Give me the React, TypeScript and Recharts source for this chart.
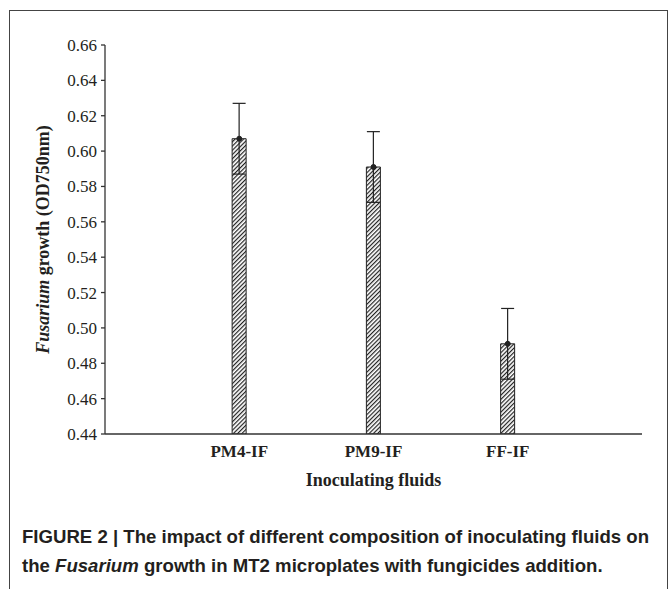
import React from 'react';
import { ComposedChart, Bar, Line, ErrorBar, XAxis, YAxis } from 'recharts';

const categories = ['PM4-IF', 'PM9-IF', 'FF-IF'];
const positions = [1, 2, 3];
const growth = [0.607, 0.591, 0.491];
const errors = [0.02, 0.02, 0.02];
const yTicks = [0.44, 0.46, 0.48, 0.5, 0.52, 0.54, 0.56, 0.58, 0.6, 0.62, 0.64, 0.66];

const data = positions.map((x, i) => ({
    x,
    name: categories[i],
    growth: growth[i],
    err: errors[i],
}));

const ink = '#231f20';
const serif = '"Liberation Serif", "Times New Roman", serif';

const YTitle = (props: any) => {
    const { viewBox } = props;
    const cx = 43;
    const cy = viewBox.y + viewBox.height / 2;
    return (
        <text x={cx} y={cy} transform={`rotate(-90 ${cx} ${cy})`} textAnchor="middle" dominantBaseline="central"
            fontFamily={serif} fontWeight="bold" fontSize={18} fill={ink}>
            <tspan fontStyle="italic">Fusarium</tspan> growth (OD750nm)
        </text>
    );
};

const XTitle = (props: any) => {
    const { viewBox } = props;
    return (
        <text x={viewBox.x + viewBox.width / 2} y={viewBox.y + 52} textAnchor="middle"
            fontFamily={serif} fontWeight="bold" fontSize={18} fill={ink}>
            Inoculating fluids
        </text>
    );
};

export default function App() {
    return (
        <div style={{ position: 'absolute', left: 0, top: 0, width: 670, height: 589, overflow: 'hidden', background: '#fff' }}>
            <div style={{ position: 'absolute', left: 9, top: 10, width: 657, height: 600, borderLeft: '1.5px solid #444', borderTop: '1.5px solid #444', borderRight: '1.5px solid #444' }} />
            <ComposedChart width={670} height={589} data={data} margin={{ top: 45, right: 28, bottom: 95, left: 0 }}
                style={{ position: 'absolute', left: 0, top: 0 }}>
                <defs>
                    <pattern id="hatch" width="3" height="3" patternUnits="userSpaceOnUse" patternTransform="rotate(45)">
                        <rect width="3" height="3" fill="#fff" />
                        <line x1="0.6" y1="0" x2="0.6" y2="3" stroke="#222" strokeWidth={1.2} />
                    </pattern>
                </defs>
                <XAxis xAxisId="bottom" dataKey="x" type="number" domain={[0, 4]} ticks={positions} height={60}
                    tickFormatter={(v: number) => categories[v - 1]} tickLine={false} tickSize={0} tickMargin={11}
                    stroke="#333" strokeWidth={1.3}
                    tick={{ fill: ink, fontFamily: serif, fontWeight: 'bold', fontSize: 17 }}
                    label={<XTitle />} />
                <XAxis xAxisId="top" orientation="top" dataKey="x" type="number" domain={[0, 4]} ticks={positions}
                    height={0} tick={false} tickSize={-4} stroke="#333" strokeWidth={1.3} />
                <YAxis yAxisId="left" type="number" domain={[0.44, 0.66]} ticks={yTicks} allowDataOverflow width={105}
                    tickFormatter={(v: number) => v.toFixed(2)} tickSize={4} tickMargin={4}
                    stroke="#333" strokeWidth={1.3}
                    tick={{ fill: ink, fontFamily: serif, fontSize: 17 }}
                    label={<YTitle />} />
                <YAxis yAxisId="right" orientation="right" type="number" domain={[0.44, 0.66]} ticks={yTicks}
                    allowDataOverflow width={0} tick={false} tickSize={-4} stroke="#333" strokeWidth={1.3} />
                <Bar xAxisId="bottom" yAxisId="left" dataKey="growth" barSize={14} fill="url(#hatch)" stroke="#222"
                    strokeWidth={1} isAnimationActive={false}>
                    <ErrorBar dataKey="err" width={6.5} stroke="#222" strokeWidth={1.2} direction="y" />
                </Bar>
                <Line xAxisId="bottom" yAxisId="left" dataKey="growth" stroke="none" isAnimationActive={false}
                    dot={{ r: 2.5, fill: '#222', stroke: '#222', strokeWidth: 1 }} activeDot={false} />
            </ComposedChart>
            <div style={{ position: 'absolute', left: 22, top: 522, width: 645, fontFamily: '"Liberation Sans", Arial, sans-serif',
                fontWeight: 'bold', fontSize: 18.6, lineHeight: '29px', color: ink, whiteSpace: 'nowrap' }}>
                FIGURE 2 | The impact of different composition of inoculating fluids on<br />
                the <i>Fusarium</i> growth in MT2 microplates with fungicides addition.
            </div>
        </div>
    );
}
